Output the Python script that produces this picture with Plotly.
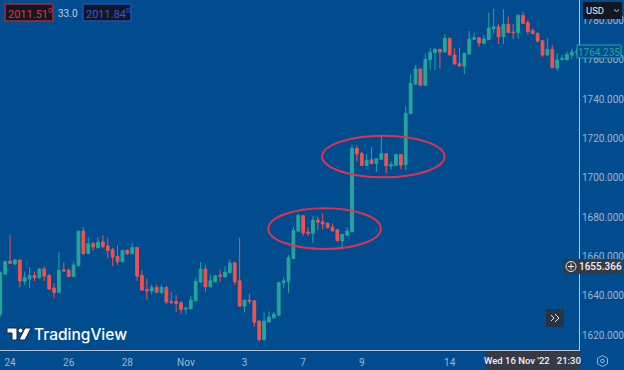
import plotly.graph_objects as go

opens = [1630.7,1651.0,1657.5,1656.1,1658.2,1647.3,1648.6,1650.3,1649.2,1653.6,1650.3,1643.9,1641.7,1653.2,1653.0,1649.8,1655.3,1672.9,1661.5,1666.5,
1664.4,1667.3,1665.3,1663.4,1660.0,1657.3,1663.1,1661.4,1664.6,1650.3,1643.2,1642.4,1644.2,1641.7,1644.2,1637.1,1637.1,1636.4,1633.2,1633.4,
1637.4,1647.0,1653.6,1644.5,1647.1,1650.5,1649.5,1651.7,1656.8,1647.6,1634.7,1637.8,1637.4,1627.1,1617.7,1626.6,1628.8,1630.1,1646.6,1647.1,
1659.0,1672.9,1680.7,1672.4,1671.7,1678.5,1677.6,1676.9,1674.9,1673.6,1668.0,1670.8,1672.5,1715.0,1712.4,1706.3,1709.2,1707.3,1709.4,1712.3,
1706.1,1706.3,1711.9,1706.8,1732.8,1747.7,1755.4,1747.1,1760.1,1763.7,1765.4,1764.0,1771.0,1762.5,1758.1,1756.9,1763.0,1770.5,1771.3,1768.4,
1770.3,1775.9,1776.9,1771.8,1778.1,1774.2,1773.9,1782.7,1779.0,1774.9,1773.5,1769.8,1762.5,1765.4,1755.9,1760.3,1760.1,1762.5,1764.0]
highs = [1652.5,1657.8,1670.9,1658.5,1658.5,1652.2,1654.4,1652.2,1653.9,1654.8,1651.0,1646.3,1662.4,1657.1,1653.9,1657.3,1672.9,1674.8,1669.7,1667.5,
1669.7,1670.7,1669.7,1664.4,1665.6,1663.1,1663.6,1667.0,1664.6,1653.1,1648.8,1645.6,1645.8,1645.6,1644.9,1642.0,1640.3,1637.4,1634.1,1640.0,
1649.3,1657.1,1655.6,1650.8,1650.5,1653.4,1655.1,1658.5,1656.8,1669.5,1637.8,1641.0,1637.8,1627.6,1631.5,1632.0,1631.8,1646.7,1649.5,1660.7,
1675.1,1681.5,1680.9,1674.7,1680.5,1680.2,1681.9,1677.3,1676.8,1673.6,1671.2,1674.9,1716.7,1716.7,1713.3,1712.1,1715.8,1709.7,1721.9,1712.3,
1708.5,1712.1,1711.9,1736.5,1752.8,1757.4,1755.4,1763.3,1766.2,1766.2,1765.4,1773.0,1771.0,1765.9,1766.2,1763.7,1774.7,1774.0,1771.8,1772.7,
1784.0,1786.1,1778.3,1785.7,1782.0,1778.3,1783.2,1784.7,1780.3,1776.1,1774.0,1770.1,1771.0,1767.6,1763.3,1762.5,1764.2,1765.6,1765.9]
lows = [1629.3,1650.7,1656.2,1655.6,1644.2,1645.4,1643.9,1647.5,1648.8,1647.5,1642.9,1638.5,1641.7,1652.2,1649.5,1649.7,1655.3,1660.7,1661.5,1662.9,
1664.1,1664.1,1659.0,1655.1,1655.6,1657.1,1660.7,1661.2,1647.6,1642.5,1637.8,1640.7,1641.4,1641.0,1635.8,1635.8,1631.8,1630.7,1630.7,1633.2,
1637.4,1646.6,1642.0,1644.5,1646.7,1647.1,1649.5,1651.7,1645.4,1634.7,1631.8,1635.7,1624.2,1616.4,1617.0,1626.6,1628.4,1629.8,1644.0,1641.5,
1659.0,1672.5,1670.5,1670.3,1666.9,1673.4,1673.7,1674.1,1672.7,1667.8,1664.6,1670.7,1672.5,1708.2,1706.0,1706.1,1706.8,1703.1,1709.4,1702.2,
1704.3,1706.0,1704.4,1704.0,1732.5,1747.4,1747.0,1746.9,1755.2,1754.9,1755.5,1763.9,1762.5,1757.7,1756.6,1752.8,1762.8,1770.1,1766.7,1768.3,
1770.1,1773.5,1768.1,1768.1,1773.9,1770.6,1771.0,1778.3,1773.0,1773.0,1769.3,1761.6,1762.3,1755.9,1754.5,1759.6,1760.0,1760.6,1762.5]
closes = [1651.7,1657.5,1656.5,1658.2,1647.5,1649.2,1650.3,1649.2,1653.6,1650.0,1643.4,1641.7,1652.9,1652.6,1649.8,1655.6,1672.9,1661.5,1666.5,1664.8,
1667.3,1665.1,1663.1,1659.7,1657.3,1663.1,1661.5,1664.6,1650.0,1642.9,1642.5,1644.2,1641.7,1644.2,1636.8,1636.6,1636.1,1633.0,1633.7,1637.8,
1647.3,1653.6,1644.6,1647.6,1650.1,1650.0,1652.0,1656.6,1647.1,1634.7,1637.8,1637.1,1626.6,1617.7,1627.1,1629.1,1630.6,1646.7,1647.6,1659.3,
1673.2,1680.9,1672.0,1671.9,1678.5,1677.5,1676.6,1674.7,1673.0,1668.0,1671.2,1672.9,1715.0,1712.1,1706.3,1709.0,1707.3,1709.7,1712.3,1706.1,
1706.8,1711.9,1706.5,1732.8,1748.1,1755.4,1747.1,1760.3,1763.9,1765.4,1764.0,1771.0,1762.5,1757.9,1756.9,1763.3,1770.6,1771.3,1768.6,1770.6,
1776.2,1776.9,1771.8,1778.1,1774.0,1773.9,1782.7,1778.6,1774.4,1773.4,1769.5,1762.5,1765.4,1756.1,1760.0,1760.8,1762.7,1764.0,1764.2]

n = min(len(opens), len(highs), len(lows), len(closes))
opens, highs, lows, closes = opens[:n], highs[:n], lows[:n], closes[:n]
candle_index = list(range(n))

x_tick_positions = [2, 14, 26, 38, 50, 62, 74, 92]
x_tick_labels = ["24", "26", "28", "Nov", "3", "7", "9", "14"]
y_ticks = [1620, 1640, 1660, 1680, 1700, 1720, 1740, 1760, 1780]

BG = "#004c8f"
UP = "#26a69a"
DOWN = "#f0524f"
DARK = "#131722"
PANEL = "#363a45"
AXIS = "#b8c6d8"
TICK = "#a3b5cb"

W, H = 579, 350
px = lambda x: x / W
py = lambda y: 1 - y / H

def rect(x0, y0, x1, y1, fill, line=None, lw=1):
    return dict(type="rect", xref="paper", yref="paper", x0=px(x0), x1=px(x1), y0=py(y0), y1=py(y1),
                fillcolor=fill, line=dict(color=line or fill, width=lw if line else 0), layer="above")

def path(points, fill=None, line=None, lw=1, close=True):
    d = "M" + " L".join(f"{px(a):.5f},{py(b):.5f}" for a, b in points) + (" Z" if close else "")
    return dict(type="path", xref="paper", yref="paper", path=d, fillcolor=fill or "rgba(0,0,0,0)",
                line=dict(color=line or "rgba(0,0,0,0)", width=lw), layer="above")

def circle(cx, cy, r, fill=None, line=None, lw=1):
    return dict(type="circle", xref="paper", yref="paper", x0=px(cx-r), x1=px(cx+r), y0=py(cy-r), y1=py(cy+r),
                fillcolor=fill or "rgba(0,0,0,0)", line=dict(color=line or "rgba(0,0,0,0)", width=lw), layer="above")

def label(x, y, text, color, size=10, anchor="center", weight=None, family="Roboto"):
    return dict(xref="paper", yref="paper", x=px(x), y=py(y), text=text, showarrow=False, xanchor=anchor, yanchor="middle",
                font=dict(family=family, size=size, color=color, weight=weight), borderpad=0, align="center")

ELLIPSE = "#e0324f"
shapes = [
    dict(type="circle", xref="x", yref="y", x0=54.86, x1=77.9, y0=1663.8, y1=1684.5, line=dict(color=ELLIPSE, width=2), layer="above"),
    dict(type="circle", xref="x", yref="y", x0=65.9, x1=90.95, y0=1700.3, y1=1721.4, line=dict(color=ELLIPSE, width=2), layer="above"),
    rect(5, 4, 53, 21, DARK, "#a62a3a", 1.5),
    rect(83, 4, 131, 21, DARK, "#1f4fc0", 1.5),
    rect(583, 2, 622, 19, DARK),
    path([(614, 9.5), (616.5, 11.5), (619, 9.5)], line="#d1d4dc", lw=1, close=False),
    rect(577, 45, 621, 58, BG, UP, 1),
    rect(564, 259, 580, 274, PANEL),
    rect(580, 259, 621, 274, PANEL),
    circle(571, 266.5, 5, line="#e8eaf0", lw=1),
    path([(568, 266.5), (574, 266.5)], line="#e8eaf0", close=False),
    path([(571, 263.5), (571, 269.5)], line="#e8eaf0", close=False),
    rect(546, 309, 564, 327, "#2a3342"),
    path([(551, 315), (554, 318), (551, 321)], line="#e8eaf0", close=False),
    path([(555, 314), (559, 318), (555, 322)], line="#e8eaf0", close=False),
    rect(485, 351, 579, 370, PANEL),
    path([(602.5, 355.5), (607.5, 358.3), (607.5, 363.7), (602.5, 366.5), (597.5, 363.7), (597.5, 358.3)], line=TICK, lw=1),
    circle(602.5, 361, 1.8, line=TICK, lw=1),
    path([(7, 328), (17, 328), (17, 340), (12, 340), (12, 333), (7, 333)], fill="white", line="#10243c", lw=1),
    circle(20.5, 330.5, 2.5, fill="white", line="#10243c"),
    path([(25, 328), (31, 328), (25, 340), (19, 340)], fill="white", line="#10243c", lw=1),
]

annotations = [
    label(30, 13, "2011.51<sup>0</sup>", "#e8333f", 11),
    label(68, 13, "33.0", "#c3cede", 10),
    label(108, 13, "2011.84<sup>0</sup>", "#2a5ce0", 11),
    label(585, 10.5, "USD", "#e8eaf0", 9.5, anchor="left"),
    label(599, 52, "1764.235", UP, 10),
    label(600.5, 266.5, "1655.366", "#f0f3fa", 10, weight=500),
    label(532, 360.5, "Wed 16 Nov '22&nbsp;&nbsp;&nbsp;21:30", "#f0f3fa", 9.5, weight=500),
    label(33, 334, "TradingView", "white", 15.5, anchor="left", weight=500, family="Inter"),
]

fig = go.Figure(go.Candlestick(
    x=candle_index, open=opens, high=highs, low=lows, close=closes,
    increasing=dict(line=dict(color=UP, width=1), fillcolor=UP),
    decreasing=dict(line=dict(color=DOWN, width=1), fillcolor=DOWN),
    whiskerwidth=0, hoverinfo="skip",
))

fig.update_layout(
    width=624, height=370, paper_bgcolor=BG, plot_bgcolor=BG,
    margin=dict(l=0, r=45, t=0, b=20), showlegend=False, boxgap=0.2,
    shapes=shapes, annotations=annotations,
    font=dict(family="Roboto", color=TICK, size=10),
    xaxis=dict(range=[-0.06, 118.47], rangeslider=dict(visible=False), showgrid=False, zeroline=False,
               tickmode="array", tickvals=x_tick_positions, ticktext=x_tick_labels, ticks="",
               showline=True, linecolor=AXIS, linewidth=1, tickfont=dict(size=10, color=TICK), ticklabelstandoff=3),
    yaxis=dict(range=[1612.4, 1790.5], side="right", showgrid=False, zeroline=False,
               tickmode="array", tickvals=y_ticks, ticktext=[f"{v}.000" for v in y_ticks], ticks="",
               showline=True, linecolor=AXIS, linewidth=1, tickfont=dict(size=10, color=TICK)),
)
fig.write_html("out.html", config={"displayModeBar": False},
               post_script="document.body.style.margin='0';document.body.style.background='#004c8f';document.documentElement.style.overflow='hidden';")
